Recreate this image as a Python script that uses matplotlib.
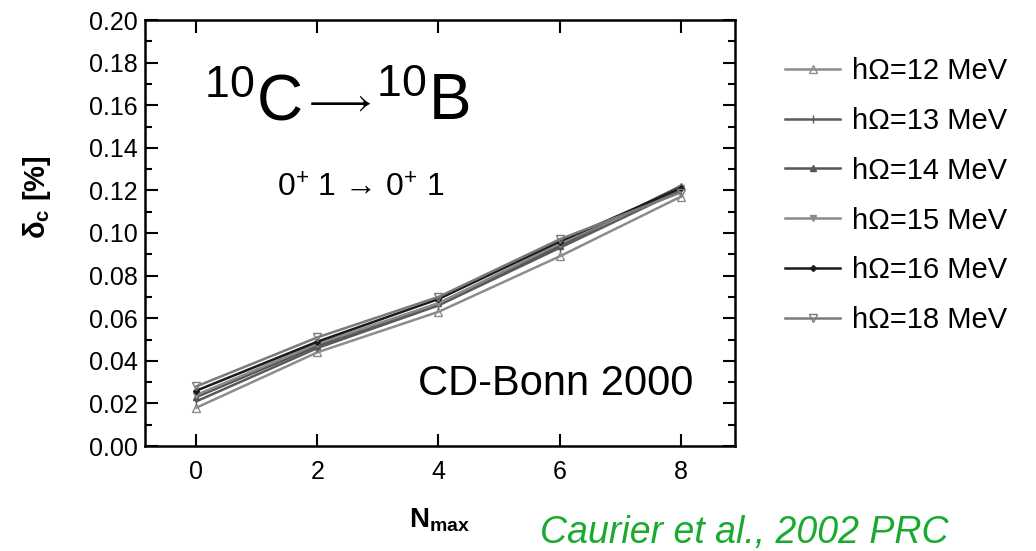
import matplotlib
matplotlib.use("Agg")
import matplotlib.pyplot as plt
from matplotlib.ticker import MultipleLocator

plt.rcParams['font.family'] = ['Liberation Sans', 'DejaVu Sans']
plt.rcParams['mathtext.fontset'] = 'custom'
plt.rcParams['mathtext.rm'] = 'Liberation Sans'
plt.rcParams['mathtext.it'] = 'Liberation Sans:italic'
plt.rcParams['mathtext.bf'] = 'Liberation Sans:bold'
plt.rcParams['mathtext.fallback'] = 'stixsans'

nmax = [0, 2, 4, 6, 8]
labels = ["hΩ=12 MeV", "hΩ=13 MeV", "hΩ=14 MeV", "hΩ=15 MeV", "hΩ=16 MeV", "hΩ=18 MeV"]
d12 = [0.018, 0.044, 0.063, 0.089, 0.117]
d13 = [0.021, 0.046, 0.066, 0.093, 0.120]
d14 = [0.023, 0.047, 0.067, 0.094, 0.122]
d15 = [0.024, 0.048, 0.067, 0.095, 0.121]
d16 = [0.026, 0.049, 0.069, 0.096, 0.121]
d18 = [0.028, 0.051, 0.070, 0.097, 0.119]

series = [d12, d13, d14, d15, d16, d18]
colors = ['#8c8c8c', '#5a5a5a', '#555555', '#8a8a8a', '#1a1a1a', '#7a7a7a']
markers = ['^', '|', '^', 'v', 'D', 'v']
msizes = [6, 6, 4, 4, 3, 6]
fills = ['none', 'full', 'full', 'full', 'full', 'none']

fig = plt.figure(figsize=(10.36, 5.51), dpi=100)
ax = fig.add_axes([145/1036, 1-446/551, 590/1036, 426/551])

for d, c, m, ms, f, lab in zip(series, colors, markers, msizes, fills, labels):
    ax.plot(nmax, d, color=c, marker=m, markersize=ms, fillstyle=f,
            markeredgecolor=c, linewidth=1.8, label=lab)

ax.set_xlim(-0.85, 8.9)
ax.set_ylim(0, 0.20)
ax.set_xticks(nmax)
ax.set_yticks([i * 0.02 for i in range(11)])
ax.yaxis.set_minor_locator(MultipleLocator(0.01))
ax.yaxis.set_major_formatter(matplotlib.ticker.FormatStrFormatter('%.2f'))
ax.tick_params(which='both', direction='in', top=True, right=True, labelsize=18, width=1.5)
ax.tick_params(which='major', length=9)
ax.tick_params(which='minor', length=5)
ax.tick_params(axis='x', pad=10)
ax.tick_params(axis='y', pad=5)
for s in ax.spines.values():
    s.set_linewidth(1.8)

ax.set_ylabel(r'δ$_\mathbf{c}$ [%]', fontsize=21, fontweight='bold')
ax.yaxis.set_label_coords(-0.156, 0.585)
ax.set_xlabel(r'N$_\mathbf{max}$', fontsize=20, fontweight='bold', labelpad=16)

# 10C -> 10B, built from three pieces so the arrow can be sized on its own
ax.text(0.10, 0.765, r'$^{10}$C', transform=ax.transAxes, fontsize=46,
        ha='left', va='baseline')
ax.text(0.326, 0.808, r'${\longrightarrow}$', transform=ax.transAxes, fontsize=29,
        ha='center', va='center')
ax.text(0.392, 0.765, r'$^{10}$B', transform=ax.transAxes, fontsize=46,
        ha='left', va='baseline')

ax.text(0.366, 0.605, r'$0^{+}$ 1 → $0^{+}$ 1', transform=ax.transAxes, fontsize=23,
        ha='center', va='center')
ax.text(0.93, 0.145, 'CD-Bonn 2000', transform=ax.transAxes, fontsize=30,
        ha='right', va='center')

leg = ax.legend(loc='upper left', bbox_to_anchor=(1.04, 0.975), frameon=False,
                fontsize=21, handlelength=1.9, labelspacing=0.75, handletextpad=0.4)

fig.text(540/1036, 1-533/551, 'Caurier et al., 2002 PRC', color='#1aaa2e',
         fontsize=27, style='italic', ha='left', va='center')

fig.savefig('out.png', dpi=100)
